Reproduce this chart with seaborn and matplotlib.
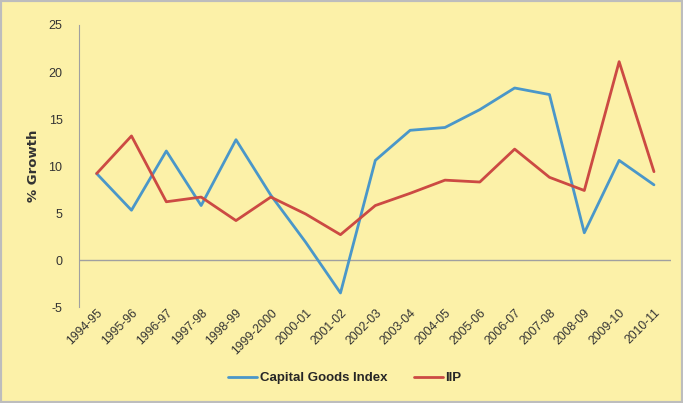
import pandas as pd
import matplotlib
matplotlib.use('Agg')
import matplotlib.pyplot as plt
import seaborn as sns
from matplotlib.patches import Rectangle

sns.set_style("white")
plt.rcParams['font.family'] = ['Liberation Sans', 'DejaVu Sans']
plt.rcParams['axes.unicode_minus'] = False

years = ['1994-95', '1995-96', '1996-97', '1997-98', '1998-99', '1999-2000',
         '2000-01', '2001-02', '2002-03', '2003-04', '2004-05', '2005-06',
         '2006-07', '2007-08', '2008-09', '2009-10', '2010-11']
capital_goods = [9.2, 5.3, 11.6, 5.8, 12.8, 6.9, 1.9, -3.5, 10.6, 13.8, 14.1,
                 16.0, 18.3, 17.6, 2.9, 10.6, 8.0]
iip = [9.2, 13.2, 6.2, 6.7, 4.2, 6.7, 4.9, 2.7, 5.8, 7.1, 8.5, 8.3, 11.8,
       8.8, 7.4, 21.1, 9.4]

df = pd.DataFrame({'Year': years * 2,
                   'Growth': capital_goods + iip,
                   'Series': ['Capital Goods Index'] * len(years) + ['IIP'] * len(years)})

bg = '#FCF1A8'
fig = plt.figure(figsize=(6.83, 4.03), dpi=100, facecolor=bg)
fig.patches.append(Rectangle((0, 0), 1, 1, transform=fig.transFigure, fill=False,
                             edgecolor='#BDBDBD', linewidth=3))
ax = fig.add_axes([0.116, 0.238, 0.867, 0.70])
ax.set_facecolor(bg)

sns.lineplot(data=df, x='Year', y='Growth', hue='Series', sort=False,
             palette={'Capital Goods Index': '#4A97C9', 'IIP': '#CC4A43'},
             linewidth=2, ax=ax)

ax.set_ylim(-5, 25)
ax.set_yticks([-5, 0, 5, 10, 15, 20, 25])
ax.set_xlim(-0.5, len(years) - 0.5)
ax.axhline(0, color='#A0A0A0', linewidth=1, zorder=0)
for s in ['top', 'right', 'bottom']:
    ax.spines[s].set_visible(False)
ax.spines['left'].set_color('#A0A0A0')
ax.spines['left'].set_linewidth(0.8)

ax.tick_params(axis='y', labelsize=9, colors='#333333', length=0, pad=12)
ax.tick_params(axis='x', labelsize=8.8, colors='#333333', length=0, pad=0)
plt.setp(ax.get_xticklabels(), rotation=45, ha='right', va='top',
         rotation_mode='anchor')
ax.set_xlabel('')
ax.set_ylabel('% Growth', fontsize=9.5, fontweight='bold', color='#333333',
              family=['DejaVu Sans'])
ax.yaxis.set_label_coords(-0.066, 0.5)

handles, labels = ax.get_legend_handles_labels()
ax.legend(handles, labels, loc='center', bbox_to_anchor=(0.505, 0.062),
          bbox_transform=fig.transFigure, ncol=2, frameon=False,
          handlelength=2.2, columnspacing=2.0, handletextpad=0.2,
          prop={'weight': 'bold', 'size': 9.5})

fig.savefig('out.png', dpi=100, facecolor=bg)
